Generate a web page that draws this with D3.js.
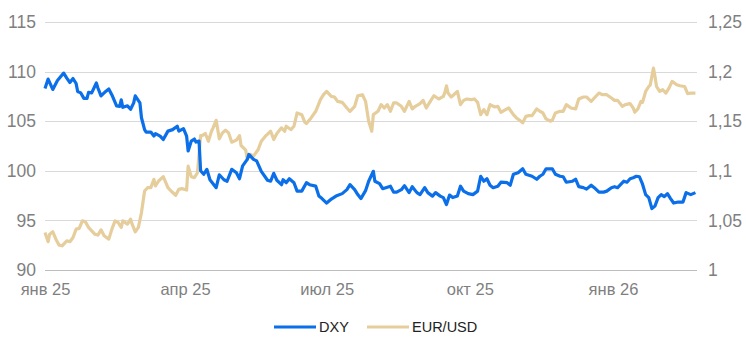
<!DOCTYPE html>
<html>
<head>
<meta charset="utf-8">
<script src="https://cdn.jsdelivr.net/npm/d3@7"></script>
<style>
  body { margin: 0; background: #fff; }
  svg { display: block; font-family: "Liberation Sans", Arial, sans-serif; }
</style>
</head>
<body>
<svg id="chart" width="746" height="355"></svg>
<script>
const xTickDates = ["2025-01-01", "2025-04-01", "2025-07-01", "2025-10-01", "2026-01-01"];
const xTickLabels = ["янв 25", "апр 25", "июл 25", "окт 25", "янв 26"];
const leftTicks = [90, 95, 100, 105, 110, 115];
const rightTicks = [1, 1.05, 1.1, 1.15, 1.2, 1.25];
const seriesNames = ["DXY", "EUR/USD"];

const dxyDates = ["2025-01-01","2025-01-03","2025-01-06","2025-01-09","2025-01-13","2025-01-15","2025-01-17","2025-01-19","2025-01-21","2025-01-22","2025-01-24","2025-01-26","2025-01-28","2025-01-29","2025-01-31","2025-02-03","2025-02-04","2025-02-06","2025-02-09","2025-02-11","2025-02-13","2025-02-16","2025-02-18","2025-02-19","2025-02-20","2025-02-23","2025-02-25","2025-02-27","2025-02-28","2025-03-03","2025-03-04","2025-03-06","2025-03-07","2025-03-10","2025-03-12","2025-03-13","2025-03-16","2025-03-18","2025-03-21","2025-03-24","2025-03-27","2025-03-28","2025-03-31","2025-04-02","2025-04-03","2025-04-05","2025-04-07","2025-04-08","2025-04-10","2025-04-11","2025-04-13","2025-04-15","2025-04-17","2025-04-21","2025-04-23","2025-04-26","2025-04-28","2025-05-01","2025-05-04","2025-05-06","2025-05-08","2025-05-11","2025-05-12","2025-05-15","2025-05-17","2025-05-20","2025-05-24","2025-05-26","2025-05-28","2025-05-30","2025-06-02","2025-06-03","2025-06-05","2025-06-07","2025-06-10","2025-06-12","2025-06-15","2025-06-18","2025-06-20","2025-06-24","2025-06-26","2025-06-28","2025-07-01","2025-07-04","2025-07-07","2025-07-11","2025-07-14","2025-07-16","2025-07-19","2025-07-21","2025-07-23","2025-07-26","2025-07-28","2025-07-31","2025-08-01","2025-08-04","2025-08-06","2025-08-08","2025-08-11","2025-08-13","2025-08-15","2025-08-18","2025-08-20","2025-08-23","2025-08-25","2025-08-28","2025-08-30","2025-09-02","2025-09-04","2025-09-07","2025-09-09","2025-09-12","2025-09-14","2025-09-16","2025-09-18","2025-09-20","2025-09-23","2025-09-25","2025-09-27","2025-09-30","2025-10-03","2025-10-06","2025-10-08","2025-10-10","2025-10-12","2025-10-14","2025-10-16","2025-10-19","2025-10-21","2025-10-25","2025-10-27","2025-10-29","2025-11-01","2025-11-04","2025-11-06","2025-11-08","2025-11-10","2025-11-13","2025-11-15","2025-11-17","2025-11-19","2025-11-23","2025-11-25","2025-11-28","2025-11-30","2025-12-02","2025-12-06","2025-12-08","2025-12-10","2025-12-13","2025-12-15","2025-12-18","2025-12-20","2025-12-23","2025-12-26","2025-12-28","2025-12-31","2026-01-02","2026-01-04","2026-01-08","2026-01-10","2026-01-12","2026-01-14","2026-01-16","2026-01-18","2026-01-20","2026-01-22","2026-01-24","2026-01-26","2026-01-28","2026-01-30","2026-02-01","2026-02-03","2026-02-05","2026-02-07","2026-02-09","2026-02-12","2026-02-15","2026-02-17","2026-02-20","2026-02-23"];
const dxyValues = [108.3,109.25,108.2,109.1,109.85,109.35,108.9,109.3,108.8,108.0,107.85,107.3,107.3,107.9,107.85,108.85,108.35,107.55,108.0,108.25,107.65,106.55,106.5,107.15,106.4,106.55,106.2,106.85,107.55,106.85,105.35,104.15,103.9,103.9,103.5,103.75,103.5,103.15,104.0,104.15,104.5,104.0,104.25,103.5,102.0,103.0,103.2,102.9,103.0,100.0,99.65,100.15,99.1,98.3,99.6,99.1,98.95,100.15,99.8,99.2,100.5,101.15,101.65,101.15,101.0,99.95,99.05,98.95,99.75,99.05,98.6,99.1,98.8,99.2,98.8,97.95,97.95,98.8,98.6,98.45,97.45,97.2,96.75,97.15,97.45,97.7,98.1,98.6,98.1,97.6,97.2,98.0,98.95,99.95,98.95,98.7,98.2,98.3,98.45,97.85,97.85,98.1,98.5,97.8,98.4,97.8,97.6,98.3,97.8,97.45,97.8,97.45,97.3,96.6,97.55,97.3,97.45,98.45,97.95,97.7,97.6,97.95,99.45,98.95,99.2,98.55,98.3,98.45,98.85,98.8,98.55,99.65,99.8,100.2,99.65,99.55,99.45,99.15,99.45,99.65,100.2,100.2,99.65,99.45,99.4,98.85,98.95,99.15,98.4,98.3,98.15,98.55,98.3,97.85,97.85,97.95,98.3,98.4,98.3,98.95,98.85,99.2,99.3,99.45,99.4,98.65,97.6,97.3,96.2,96.45,97.3,97.6,97.4,97.7,97.2,96.75,96.85,96.85,97.8,97.6,97.8];

const eurDates = ["2025-01-01","2025-01-03","2025-01-04","2025-01-06","2025-01-08","2025-01-10","2025-01-12","2025-01-15","2025-01-17","2025-01-19","2025-01-21","2025-01-23","2025-01-25","2025-01-27","2025-01-29","2025-01-31","2025-02-02","2025-02-04","2025-02-06","2025-02-08","2025-02-11","2025-02-13","2025-02-15","2025-02-17","2025-02-19","2025-02-20","2025-02-23","2025-02-25","2025-02-26","2025-02-28","2025-03-02","2025-03-04","2025-03-06","2025-03-08","2025-03-10","2025-03-12","2025-03-13","2025-03-15","2025-03-18","2025-03-21","2025-03-23","2025-03-26","2025-03-28","2025-03-30","2025-04-02","2025-04-03","2025-04-05","2025-04-07","2025-04-09","2025-04-11","2025-04-12","2025-04-14","2025-04-16","2025-04-18","2025-04-19","2025-04-21","2025-04-23","2025-04-25","2025-04-27","2025-04-29","2025-05-01","2025-05-04","2025-05-06","2025-05-07","2025-05-10","2025-05-11","2025-05-13","2025-05-15","2025-05-18","2025-05-20","2025-05-23","2025-05-26","2025-05-28","2025-05-30","2025-06-02","2025-06-04","2025-06-05","2025-06-08","2025-06-10","2025-06-12","2025-06-15","2025-06-17","2025-06-18","2025-06-21","2025-06-24","2025-06-27","2025-06-29","2025-07-01","2025-07-04","2025-07-06","2025-07-08","2025-07-11","2025-07-14","2025-07-16","2025-07-19","2025-07-21","2025-07-24","2025-07-26","2025-07-27","2025-07-28","2025-07-30","2025-07-31","2025-08-03","2025-08-05","2025-08-07","2025-08-09","2025-08-11","2025-08-13","2025-08-15","2025-08-18","2025-08-20","2025-08-23","2025-08-25","2025-08-27","2025-08-30","2025-09-01","2025-09-03","2025-09-06","2025-09-08","2025-09-11","2025-09-14","2025-09-15","2025-09-16","2025-09-17","2025-09-19","2025-09-20","2025-09-23","2025-09-25","2025-09-27","2025-09-29","2025-10-02","2025-10-04","2025-10-06","2025-10-08","2025-10-10","2025-10-12","2025-10-14","2025-10-17","2025-10-19","2025-10-21","2025-10-24","2025-10-26","2025-10-29","2025-10-31","2025-11-02","2025-11-04","2025-11-06","2025-11-08","2025-11-10","2025-11-13","2025-11-15","2025-11-17","2025-11-19","2025-11-22","2025-11-23","2025-11-25","2025-11-28","2025-11-30","2025-12-02","2025-12-05","2025-12-08","2025-12-10","2025-12-13","2025-12-15","2025-12-18","2025-12-20","2025-12-23","2025-12-25","2025-12-28","2025-12-31","2026-01-02","2026-01-04","2026-01-07","2026-01-09","2026-01-12","2026-01-14","2026-01-15","2026-01-17","2026-01-19","2026-01-20","2026-01-22","2026-01-24","2026-01-25","2026-01-27","2026-01-28","2026-01-29","2026-01-31","2026-02-02","2026-02-04","2026-02-06","2026-02-08","2026-02-11","2026-02-13","2026-02-16","2026-02-18","2026-02-20","2026-02-23"];
const eurValues = [1.0378,1.0285,1.0361,1.0385,1.0311,1.0251,1.0244,1.0294,1.0285,1.0328,1.0412,1.0419,1.0495,1.0485,1.0429,1.0395,1.0361,1.0352,1.0405,1.0345,1.0311,1.0412,1.0495,1.0479,1.0429,1.0495,1.0462,1.0512,1.0462,1.0385,1.0429,1.0579,1.0796,1.083,1.083,1.0914,1.0847,1.0897,1.0941,1.083,1.0796,1.0753,1.0813,1.082,1.0806,1.1047,1.0941,1.0931,1.0981,1.1355,1.1355,1.1376,1.1298,1.1399,1.1433,1.1509,1.1322,1.1382,1.1409,1.1382,1.1288,1.1309,1.1355,1.1255,1.1208,1.1114,1.1165,1.1148,1.1215,1.1298,1.1355,1.1399,1.1315,1.1376,1.1433,1.1399,1.1449,1.1416,1.1449,1.1583,1.1566,1.1489,1.1476,1.1533,1.16,1.1717,1.1767,1.18,1.175,1.1744,1.17,1.169,1.1633,1.16,1.165,1.1757,1.1767,1.17,1.16,1.15,1.1399,1.1566,1.16,1.1667,1.1633,1.1667,1.16,1.1684,1.1684,1.165,1.16,1.17,1.1624,1.165,1.1677,1.171,1.1633,1.171,1.1757,1.1724,1.175,1.179,1.1857,1.1784,1.1744,1.1757,1.18,1.1667,1.171,1.1724,1.1717,1.1724,1.169,1.1566,1.1617,1.1566,1.1667,1.1643,1.165,1.159,1.1617,1.1633,1.1566,1.1533,1.1509,1.1483,1.1549,1.1556,1.1556,1.1624,1.16,1.1583,1.1523,1.15,1.1509,1.1583,1.16,1.16,1.1667,1.1633,1.1624,1.1724,1.1744,1.1744,1.17,1.1734,1.1784,1.1767,1.1767,1.1734,1.171,1.171,1.165,1.1667,1.1677,1.1633,1.159,1.1624,1.17,1.169,1.18,1.185,1.1867,1.2035,1.1951,1.185,1.18,1.1817,1.1784,1.1834,1.1901,1.1867,1.1857,1.185,1.1777,1.1784,1.1784];

const parse = d3.utcParse("%Y-%m-%d");
const dxy = dxyDates.map((d, i) => ({ date: parse(d), value: dxyValues[i] }));
const eur = eurDates.map((d, i) => ({ date: parse(d), value: eurValues[i] }));

const svg = d3.select("#chart");
const m = { left: 45, right: 697, top: 22, bottom: 270 };
const axisFont = '"Liberation Sans", Arial, sans-serif';

const x = d3.scaleUtc()
  .domain([parse("2025-01-01"), parse("2026-02-24")])
  .range([m.left, m.right]);
const yL = d3.scaleLinear().domain([90, 115]).range([m.bottom, m.top]);
const yR = d3.scaleLinear().domain([1, 1.25]).range([m.bottom, m.top]);

// gridlines
svg.append("g").selectAll("line").data(leftTicks).join("line")
  .attr("x1", m.left).attr("x2", m.right)
  .attr("y1", d => Math.round(yL(d)) + 0.5).attr("y2", d => Math.round(yL(d)) + 0.5)
  .attr("stroke", d => d === 90 ? "#bdbdbd" : "#d9d9d9")
  .attr("stroke-width", 1);

// left axis
const leftAxis = d3.axisLeft(yL).tickValues(leftTicks).tickSize(0).tickPadding(9)
  .tickFormat(d3.format("d"));
const gL = svg.append("g").attr("transform", `translate(${m.left},0)`).call(leftAxis);
gL.select(".domain").remove();
gL.selectAll("text").attr("fill", "#7f7f7f").style("font-size", "17.5px")
  .style("font-family", axisFont);

// right axis
const rFmt = d => String(+d.toFixed(2)).replace(".", ",");
const rightAxis = d3.axisRight(yR).tickValues(rightTicks).tickSize(0).tickPadding(11)
  .tickFormat(rFmt);
const gR = svg.append("g").attr("transform", `translate(${m.right},0)`).call(rightAxis);
gR.select(".domain").remove();
gR.selectAll("text").attr("fill", "#7f7f7f").style("font-size", "17.5px")
  .style("font-family", axisFont);

// bottom axis
const bottomAxis = d3.axisBottom(x).tickValues(xTickDates.map(parse)).tickSize(0).tickPadding(13)
  .tickFormat((d, i) => xTickLabels[i]);
const gB = svg.append("g").attr("transform", `translate(0,${m.bottom})`).call(bottomAxis);
gB.select(".domain").remove();
gB.selectAll("text").attr("fill", "#7f7f7f").style("font-size", "16.5px")
  .style("font-family", axisFont);

// lines
const colors = { dxy: "#0a6fe8", eur: "#e6cd9c" };
svg.append("path").datum(eur)
  .attr("d", d3.line().x(d => x(d.date)).y(d => yR(d.value)))
  .attr("fill", "none").attr("stroke", colors.eur).attr("stroke-width", 3.2)
  .attr("stroke-linejoin", "round");
svg.append("path").datum(dxy)
  .attr("d", d3.line().x(d => x(d.date)).y(d => yL(d.value)))
  .attr("fill", "none").attr("stroke", colors.dxy).attr("stroke-width", 3.2)
  .attr("stroke-linejoin", "round");

// legend
const legend = svg.append("g").attr("transform", "translate(0,327)");
const items = [
  { name: seriesNames[0], color: colors.dxy, x: 274 },
  { name: seriesNames[1], color: colors.eur, x: 367 }
];
items.forEach(it => {
  legend.append("line").attr("x1", it.x).attr("x2", it.x + 42).attr("y1", 0).attr("y2", 0)
    .attr("stroke", it.color).attr("stroke-width", 3.2);
  legend.append("text").attr("x", it.x + 45).attr("y", 0).attr("dy", "0.36em")
    .attr("fill", "#222").style("font-size", "14.5px").text(it.name);
});
</script>
</body>
</html>
